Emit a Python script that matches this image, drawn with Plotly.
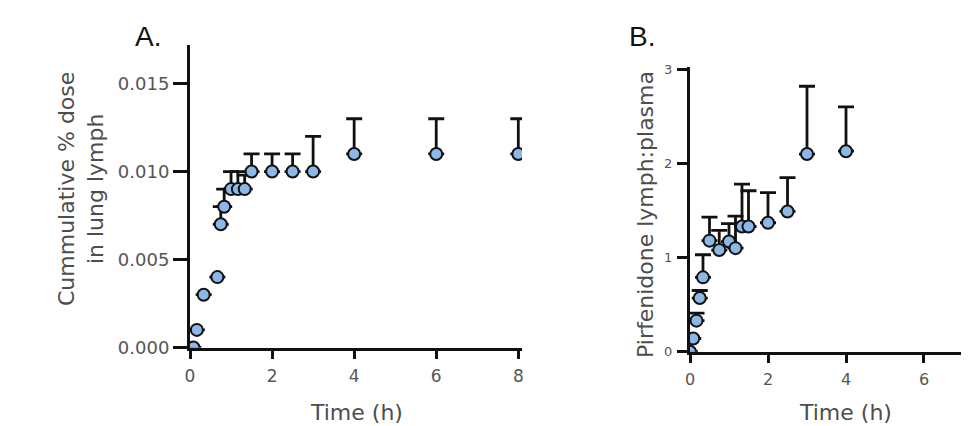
import plotly.graph_objects as go

# Panel A: cumulative % dose in lung lymph
time_a = [0.083, 0.167, 0.333, 0.667, 0.75, 0.833, 1.0, 1.167, 1.333, 1.5, 2, 2.5, 3, 4, 6, 8]
dose_a = [0.0, 0.001, 0.003, 0.004, 0.007, 0.008, 0.009, 0.009, 0.009, 0.010, 0.010, 0.010, 0.010, 0.011, 0.011, 0.011]
err_a = [0.0, 0.0, 0.0, 0.0, 0.001, 0.001, 0.001, 0.001, 0.0008, 0.001, 0.001, 0.001, 0.002, 0.002, 0.002, 0.002]

# Panel B: pirfenidone lymph:plasma ratio
time_b = [0.0, 0.083, 0.167, 0.25, 0.333, 0.5, 0.75, 1.0, 1.167, 1.333, 1.5, 2, 2.5, 3, 4]
ratio_b = [0.0, 0.14, 0.33, 0.57, 0.79, 1.18, 1.08, 1.17, 1.10, 1.33, 1.33, 1.37, 1.49, 2.10, 2.13]
err_b = [0.0, 0.0, 0.08, 0.08, 0.24, 0.25, 0.21, 0.19, 0.34, 0.45, 0.38, 0.32, 0.36, 0.72, 0.47]

ticks_a_x = [0, 2, 4, 6, 8]
ticks_a_y = [0.0, 0.005, 0.010, 0.015]
ticklabels_a_y = ["0.000", "0.005", "0.010", "0.015"]
ticks_b_x = [0, 2, 4, 6, 8]
ticks_b_y = [0, 1, 2, 3]

# The page body has an 8px default margin; lay out in window pixels and compensate.
OFF = 8
WIN_W, WIN_H = 969, 426
W, H = WIN_W - OFF, WIN_H - OFF
FILL = "#8cb8e8"
GRAY = "#555555"
TITLEFONT = dict(family="DejaVu Sans", size=22, color="#4d4d4d")


def px_x(p):
    return (p - OFF) / W


def px_y(p):
    return 1 - (p - OFF) / H


marker = dict(size=12, color=FILL, line=dict(color="#111111", width=2), symbol="circle")

fig = go.Figure()
fig.add_trace(go.Scatter(
    x=time_a, y=dose_a, mode="markers", marker=marker,
    error_y=dict(type="data", symmetric=False, array=err_a, arrayminus=[0] * len(err_a),
                 color="#111111", thickness=2.8, width=8),
    xaxis="x", yaxis="y", showlegend=False))
fig.add_trace(go.Scatter(
    x=time_b, y=ratio_b, mode="markers", marker=marker,
    error_y=dict(type="data", symmetric=False, array=err_b, arrayminus=[0] * len(err_b),
                 color="#111111", thickness=2.8, width=8),
    xaxis="x2", yaxis="y2", showlegend=False))

axis_common = dict(showgrid=False, zeroline=False, showline=True, linecolor="#111111",
                   linewidth=3, ticks="outside", tickwidth=3, tickcolor="#111111",
                   fixedrange=True, automargin=False)

fig.update_layout(
    template="none",
    width=W, height=H, margin=dict(l=0, r=0, t=0, b=0),
    paper_bgcolor="white", plot_bgcolor="white",
    xaxis=dict(domain=[px_x(190), px_x(522)], range=[0, 8.09], tickvals=ticks_a_x,
               anchor="y", ticklen=8, ticklabelstandoff=3,
               tickfont=dict(family="DejaVu Sans", size=17, color=GRAY), **axis_common),
    yaxis=dict(domain=[px_y(347.5), px_y(45)], range=[0, 0.01719], tickvals=ticks_a_y,
               ticktext=ticklabels_a_y, anchor="x", ticklen=14, ticklabelstandoff=0,
               tickfont=dict(family="DejaVu Sans", size=18, color=GRAY), **axis_common),
    xaxis2=dict(domain=[px_x(690), 1.0], range=[0, 7.154], tickvals=ticks_b_x,
                anchor="y2", ticklen=8, ticklabelstandoff=3,
                tickfont=dict(family="DejaVu Sans", size=16, color=GRAY), **axis_common),
    yaxis2=dict(domain=[px_y(351.7), px_y(66.5)], range=[0, 3.03], tickvals=ticks_b_y,
                anchor="x2", ticklen=10, ticklabelstandoff=2,
                tickfont=dict(family="DejaVu Sans", size=13, color=GRAY), **axis_common),
)

annotations = [
    dict(text="A.", x=px_x(133), y=px_y(36), xanchor="left", yanchor="middle",
         font=dict(family="Liberation Sans", size=28, color="#111111")),
    dict(text="B.", x=px_x(627), y=px_y(36), xanchor="left", yanchor="middle",
         font=dict(family="Liberation Sans", size=28, color="#111111")),
    dict(text="Cummulative % dose<br>in lung lymph", x=px_x(81), y=px_y(189), textangle=-90,
         xanchor="center", yanchor="middle", font=TITLEFONT),
    dict(text="Pirfenidone lymph:plasma", x=px_x(645), y=px_y(215), textangle=-90,
         xanchor="center", yanchor="middle", font=TITLEFONT),
    dict(text="Time (h)", x=px_x(356), y=px_y(412), xanchor="center", yanchor="middle",
         font=TITLEFONT),
    dict(text="Time (h)", x=px_x(845), y=px_y(412), xanchor="center", yanchor="middle",
         font=TITLEFONT),
]
for a in annotations:
    a.update(xref="paper", yref="paper", showarrow=False)
fig.update_layout(annotations=annotations)

fig.write_html("out.html")
